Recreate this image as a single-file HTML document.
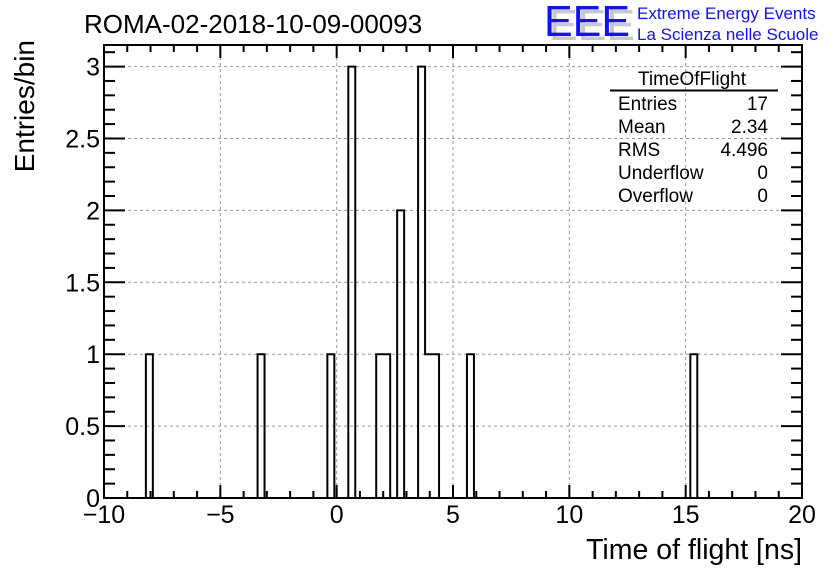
<!DOCTYPE html>
<html><head><meta charset="utf-8"><style>
html,body{margin:0;padding:0;background:#fff;}
svg{display:block;font-family:"Liberation Sans",Arial,sans-serif;}
</style></head><body>
<svg id="chart" width="836" height="572" viewBox="0 0 836 572" xmlns="http://www.w3.org/2000/svg">
<rect width="836" height="572" fill="#fff"/>
<g id="grid"></g>
<g id="bars"></g>
<g id="axes"></g>
<text x="84" y="33" font-size="26" fill="#000">ROMA-02-2018-10-09-00093</text>
<text transform="translate(34,40) rotate(-90)" text-anchor="end" font-size="28" fill="#000">Entries/bin</text>
<text x="802" y="559" text-anchor="end" font-size="28.5" fill="#000">Time of flight [ns]</text>
<g>
<text x="549" y="40" font-size="44" fill="#c8c8c8" textLength="86" lengthAdjust="spacingAndGlyphs">EEE</text>
<text x="544" y="36" font-size="44" fill="#1010ff" textLength="86" lengthAdjust="spacingAndGlyphs">EEE</text>
<text x="637" y="19" font-size="17" fill="#1010ff">Extreme Energy Events</text>
<text x="637" y="40" font-size="17" fill="#1010ff">La Scienza nelle Scuole</text>
</g>
<g font-size="19" fill="#000">
<text x="692" y="85" text-anchor="middle">TimeOfFlight</text>
<line x1="610" y1="90.5" x2="778" y2="90.5" stroke="#000" stroke-width="2"/>
<text x="618" y="110">Entries</text><text x="768" y="110" text-anchor="end">17</text>
<text x="618" y="133">Mean</text><text x="768" y="133" text-anchor="end">2.34</text>
<text x="618" y="156">RMS</text><text x="768" y="156" text-anchor="end">4.496</text>
<text x="618" y="179">Underflow</text><text x="768" y="179" text-anchor="end">0</text>
<text x="618" y="202">Overflow</text><text x="768" y="202" text-anchor="end">0</text>
</g>
</svg>
<script>
const binLow = -10;
const binWidth = 0.3;
const filledBins = [-8.2, -3.4, -0.4, 0.5, 1.7, 2.0, 2.6, 3.5, 3.8, 4.1, 5.6, 15.2];
const binCounts = [1, 1, 1, 3, 1, 1, 2, 3, 1, 1, 1, 1];
const xTickLabels = [-10, -5, 0, 5, 10, 15, 20];
const yTickLabels = [0, 0.5, 1, 1.5, 2, 2.5, 3];

const X0=104, X1=802, Y0=498, Y1=45, XMIN=-10, XMAX=20, YMIN=0, YMAX=3.15;
const sx = v => X0 + (v-XMIN)/(XMAX-XMIN)*(X1-X0);
const sy = v => Y0 - (v-YMIN)/(YMAX-YMIN)*(Y0-Y1);
const NS='http://www.w3.org/2000/svg';
function mk(tag, attrs, parent){const e=document.createElementNS(NS,tag);for(const k in attrs)e.setAttribute(k,attrs[k]);parent.appendChild(e);return e;}
const grid=document.getElementById('grid'), bars=document.getElementById('bars'), axes=document.getElementById('axes');

xTickLabels.forEach(v=>{const l=mk('line',{x1:sx(v),x2:sx(v),y1:Y1,y2:Y0,stroke:'#999','stroke-width':1,'stroke-dasharray':'3,3'},grid);

});
yTickLabels.forEach(v=>{const l=mk('line',{x1:X0,x2:X1,y1:sy(v),y2:sy(v),stroke:'#999','stroke-width':1,'stroke-dasharray':'3,3'},grid);

});

const nb = Math.round((XMAX-XMIN)/binWidth);
const counts = new Array(nb).fill(0);
filledBins.forEach((b,i)=>{const k=Math.round((b-binLow)/binWidth); if(k>=0&&k<nb) counts[k]+=binCounts[i];});
let d='M'+sx(binLow)+','+sy(0);
for(let k=0;k<nb;k++){const xa=sx(binLow+k*binWidth), xb=sx(binLow+(k+1)*binWidth);
d+=' L'+xa+','+sy(counts[k])+' L'+xb+','+sy(counts[k]);}
d+=' L'+sx(XMAX)+','+sy(0);
const p=mk('path',{d:d,fill:'none',stroke:'#000','stroke-width':2},bars);



const fr=mk('rect',{x:X0,y:Y1,width:X1-X0,height:Y0-Y1,fill:'none',stroke:'#000','stroke-width':2},axes);



for(let v=XMIN; v<=XMAX; v+=1){const major=(v%5===0), len=major?13:7;
mk('line',{x1:sx(v),x2:sx(v),y1:Y0,y2:Y0-len,stroke:'#000','stroke-width':2},axes);
mk('line',{x1:sx(v),x2:sx(v),y1:Y1,y2:Y1+len,stroke:'#000','stroke-width':2},axes);}
xTickLabels.forEach(v=>{const t=mk('text',{x:sx(v),y:523,'text-anchor':'middle','font-size':25,fill:'#000'},axes);
t.textContent=(v<0?'\u2212'+(-v):String(v));

});

for(let i=0;i<=31;i++){const v=i*0.1, major=(i%5===0), len=major?21:11;
mk('line',{x1:X0,x2:X0+len,y1:sy(v),y2:sy(v),stroke:'#000','stroke-width':2},axes);
mk('line',{x1:X1,x2:X1-len,y1:sy(v),y2:sy(v),stroke:'#000','stroke-width':2},axes);}
yTickLabels.forEach(v=>{const t=mk('text',{x:100,y:sy(v)+9,'text-anchor':'end','font-size':25,fill:'#000'},axes);
t.textContent=String(v);

});
</script>
</body></html>
